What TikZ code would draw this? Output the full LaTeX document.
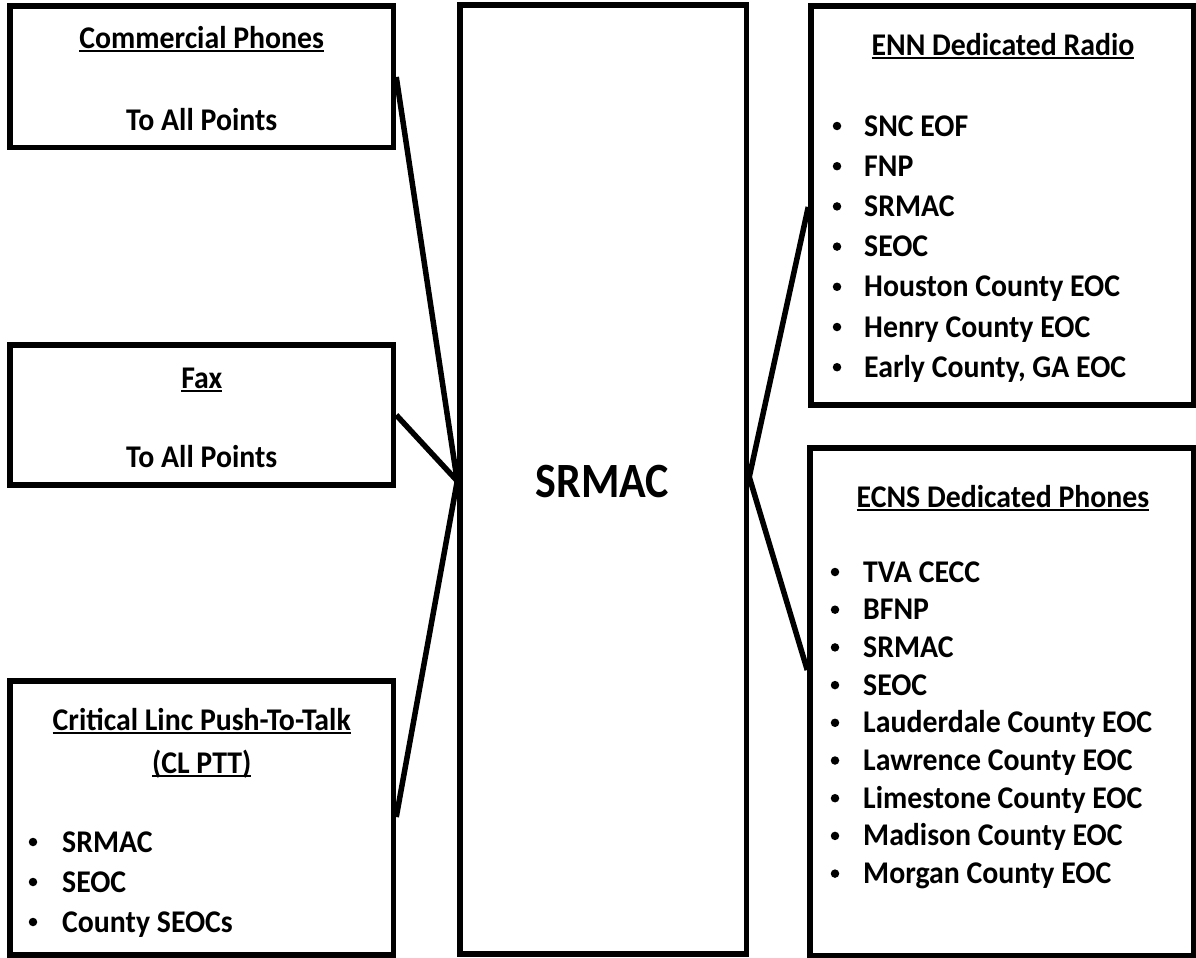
\documentclass[tikz,border=0pt]{standalone}
\usepackage{fontspec}
\usepackage{graphicx}
\setmainfont{Carlito}
\usetikzlibrary{fit}
\newcommand\ulx[1]{\setbox0\hbox{#1}\rlap{\raisebox{-4bp}{\rule{\wd0}{1.8bp}}}\box0}
\newcommand\vs[1]{\scalebox{1}[1.06]{#1}}
\tikzset{
  box/.style={draw=black, line width=5.5bp, inner sep=0pt, fill=white},
  conn/.style={draw=black, line width=5.5bp},
  txt/.style={anchor=base, inner sep=0pt, font=\fontsize{29.8bp}{35bp}\selectfont\bfseries},
  txtl/.style={txt, anchor=base west},
  dot/.style={circle, fill=black, inner sep=0pt, minimum size=8.5bp},
  bigtxt/.style={anchor=base, inner sep=0pt, font=\fontsize{44bp}{54bp}\selectfont\bfseries},
}
\begin{document}
\begin{tikzpicture}[x=1bp,y=-1bp]
\useasboundingbox (0,0) rectangle (1196,958);
% boxes
\node[box, fit={(10,6) (393.5,147.5)}] (cp) {};
\node[box, fit={(10,345) (393.5,485)}] (fax) {};
\node[box, fit={(10,681) (393.5,955)}] (cl) {};
\node[box, fit={(460,5) (746.5,954)}] (srmac) {};
\node[box, fit={(811,6) (1194,405)}] (enn) {};
\node[box, fit={(810,448) (1194,956)}] (ecns) {};
% connector end points
\coordinate (hubL) at (srmac.west |- {(0,481)});
\coordinate (hubR) at (srmac.east |- {(0,477)});
\coordinate (cpE) at (cp.east |- {(0,77)});
\coordinate (faxE) at (fax.east |- {(0,415)});
\coordinate (clE) at (cl.east |- {(0,817)});
\coordinate (ennW) at (enn.west |- {(0,207)});
\coordinate (ecnsW) at (ecns.west |- {(0,670)});
\draw[conn] (cpE) -- (hubL);
\draw[conn] (faxE) -- (hubL);
\draw[conn] (clE) -- (hubL);
\draw[conn] (ennW) -- (hubR);
\draw[conn] (ecnsW) -- (hubR);
% centre
\node[bigtxt] (srmacT) at (602.5,497) {\scalebox{1}[1.12]{SRMAC}};
% commercial phones
\node[txt] (cpT) at (201.75,48) {\ulx{\vs{Commercial Phones}}};
\node[txt] (cpS) at (201.75,130) {\vs{To All Points}};
% fax
\node[txt] (faxT) at (201.75,388) {\ulx{\vs{Fax}}};
\node[txt] (faxS) at (201.75,467) {\vs{To All Points}};
% critical linc
\node[txt] (clT1) at (201.75,730) {\ulx{\vs{Critical Linc Push-To-Talk}}};
\node[txt] (clT2) at (201.75,773) {\ulx{\vs{(CL PTT)}}};
\foreach \t [count=\i] in {SRMAC,SEOC,County SEOCs}{
  \node[dot] (clB\i) at (33,{852+40*(\i-1)-10}) {};
  \node[txtl] (clI\i) at (62,{852+40*(\i-1)}) {\vs{\t}};
}
% ENN
\node[txt] (ennT) at (1003,55) {\ulx{\vs{ENN Dedicated Radio}}};
\foreach \t [count=\i] in {SNC EOF,FNP,SRMAC,SEOC,Houston County EOC,Henry County EOC,{Early County, GA EOC}}{
  \node[dot] (ennB\i) at (837,{136+40.2*(\i-1)-10}) {};
  \node[txtl] (ennI\i) at (864,{136+40.2*(\i-1)}) {\vs{\t}};
}
% ECNS
\node[txt] (ecnsT) at (1003,507) {\ulx{\vs{ECNS Dedicated Phones}}};
\foreach \t [count=\i] in {TVA CECC,BFNP,SRMAC,SEOC,Lauderdale County EOC,Lawrence County EOC,Limestone County EOC,Madison County EOC,Morgan County EOC}{
  \node[dot] (ecnsB\i) at (835,{582+37.7*(\i-1)-10}) {};
  \node[txtl] (ecnsI\i) at (863,{582+37.7*(\i-1)}) {\vs{\t}};
}
\end{tikzpicture}
\end{document}
